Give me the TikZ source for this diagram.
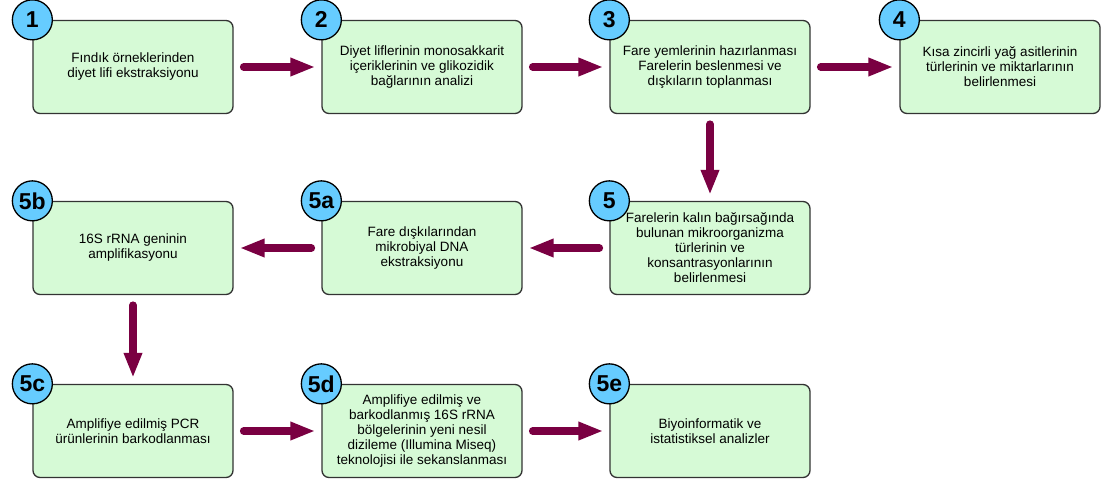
\documentclass[tikz,border=0pt]{standalone}
\usepackage{fontspec}
\setmainfont{Liberation Sans}
\usetikzlibrary{arrows.meta, positioning}
\definecolor{boxgreen}{HTML}{D6FAD6}
\definecolor{numblue}{HTML}{66CCFF}
\definecolor{arrowred}{HTML}{7A0042}

\begin{document}
\begin{tikzpicture}[x=1pt, y=-1pt,
  stepbox/.style={draw=black!80, line width=1.3pt, fill=boxgreen, rounded corners=7pt,
              minimum width=200pt, minimum height=93pt, align=center,
              font=\fontsize{13.5}{15}\selectfont},
  num/.style={circle, draw=black, line width=1.3pt, fill=numblue, minimum size=40pt,
              inner sep=0pt, font=\fontsize{23}{23}\selectfont\bfseries},
  arr/.style={-{Triangle[length=25pt, width=17pt]}, line width=7.5pt, arrowred,
              line cap=round, shorten <=10pt, shorten >=6pt}
]
\useasboundingbox (0,0) rectangle (1105,483);

% first row
\node[stepbox] (s1) at (133,67)  {Fındık örneklerinden\\diyet lifi ekstraksiyonu};
\node[stepbox] (s2) at (422,67)  {Diyet liflerinin monosakkarit\\içeriklerinin ve glikozidik\\bağlarının analizi};
\node[stepbox] (s3) at (710,67)  {Fare yemlerinin hazırlanması\\Farelerin beslenmesi ve\\dışkıların toplanması};
\node[stepbox] (s4) at (1000,67) {Kısa zincirli yağ asitlerinin\\türlerinin ve miktarlarının\\belirlenmesi};

% second row
\node[stepbox] (s5)  at (710,248) {Farelerin kalın bağırsağında\\bulunan mikroorganizma\\türlerinin ve\\konsantrasyonlarının\\belirlenmesi};
\node[stepbox] (s5a) at (422,248) {Fare dışkılarından\\mikrobiyal DNA\\ekstraksiyonu};
\node[stepbox] (s5b) at (133,248) {16S rRNA geninin\\amplifikasyonu};

% third row
\node[stepbox] (s5c) at (133,431) {Amplifiye edilmiş PCR\\ürünlerinin barkodlanması};
\node[stepbox] (s5d) at (422,431) {Amplifiye edilmiş ve\\barkodlanmış 16S rRNA\\bölgelerinin yeni nesil\\dizileme (Illumina Miseq)\\teknolojisi ile sekanslanması};
\node[stepbox] (s5e) at (710,431) {Biyoinformatik ve\\istatistiksel analizler};

% step numbers
\node[num] (n1)  at (s1.north west)  {1};
\node[num] (n2)  at (s2.north west)  {2};
\node[num] (n3)  at (s3.north west)  {3};
\node[num] (n4)  at (s4.north west)  {4};
\node[num] (n5)  at (s5.north west)  {5};
\node[num] (n5a) at (s5a.north west) {5a};
\node[num] (n5b) at (s5b.north west) {5b};
\node[num] (n5c) at (s5c.north west) {5c};
\node[num] (n5d) at (s5d.north west) {5d};
\node[num] (n5e) at (s5e.north west) {5e};

\draw[arr] (s1) -- (s2);
\draw[arr] (s2) -- (s3);
\draw[arr] (s3) -- (s4);
\draw[arr] (s3) -- (s5);
\draw[arr] (s5) -- (s5a);
\draw[arr] (s5a) -- (s5b);
\draw[arr] (s5b) -- (s5c);
\draw[arr] (s5c) -- (s5d);
\draw[arr] (s5d) -- (s5e);
\end{tikzpicture}
\end{document}
